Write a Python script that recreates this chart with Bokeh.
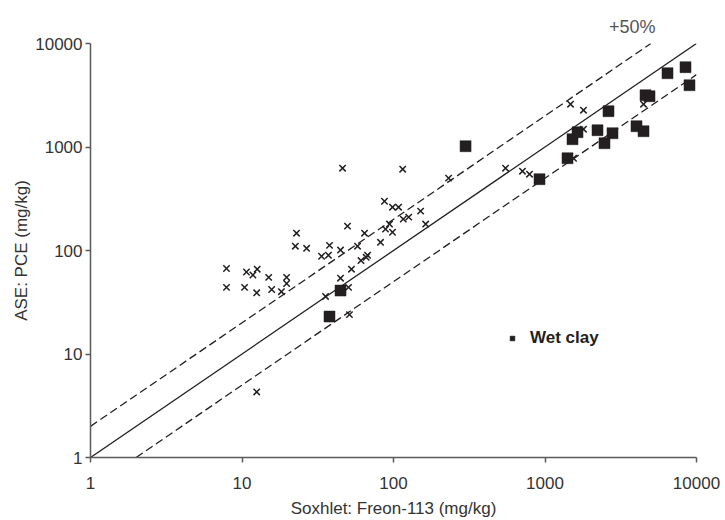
from bokeh.plotting import figure
from bokeh.models import FixedTicker, NumeralTickFormatter, Legend, LegendItem
from bokeh.embed import file_html
from bokeh.resources import INLINE

# ---- data ----
wet_clay_x = [37.8, 44.7, 299, 920, 1408, 1519, 1639, 2221, 2470, 2625, 2790,
              4018, 4470, 4608, 4897, 6437, 8461, 8990]
wet_clay_y = [23, 41, 1018, 489, 779, 1189, 1390, 1453, 1088, 2218, 1359,
              1589, 1421, 3164, 3097, 5164, 5902, 3955]

other_x = [7.9, 7.9, 10.4, 10.7, 11.8, 12.6, 12.5, 15.0, 15.7, 18.2, 19.7, 19.7,
           22.9, 22.5, 26.7, 33.5, 37.2, 37.8, 44.7, 46.1, 49.7, 57.9, 52.8, 44.7,
           50.5, 35.6, 51.2, 12.5, 64.4, 67.4, 61.0, 66.0, 82.1, 88.6, 94.1, 98.5,
           87.2, 98.5, 108, 116, 126, 151, 163, 115, 231, 549, 710, 790,
           1474, 1795, 1795, 1542, 4470]
other_y = [67, 44, 44, 62, 58, 66, 39, 55, 42, 40, 55, 48,
           147, 110, 105, 88, 90, 112, 101, 624, 172, 110, 66, 54,
           44, 36, 24, 4.3, 147, 90, 80, 86, 120, 161, 180, 150,
           299, 262, 262, 201, 210, 240, 180, 610, 500, 624, 584, 546,
           2591, 2268, 1486, 779, 2591]

# reference lines: 1:1 and the +/-50 % envelope
ref_x = [1, 10000]
ref_y = [1, 10000]
upper_x = [1, 5000]
upper_y = [2, 10000]
lower_x = [2, 10000]
lower_y = [1, 5000]

tick_values = [1, 10, 100, 1000, 10000]

x_title = "Soxhlet: Freon-113 (mg/kg)"
y_title = "ASE: PCE (mg/kg)"
legend_label = "Wet clay"
envelope_label = "+50%"

FONT = "Liberation Sans"
INK = "#231f20"
AXIS = "#5a5a5a"
TXT = "#333333"

p = figure(frame_width=606, frame_height=414, x_axis_type="log", y_axis_type="log",
           x_range=(1, 10000), y_range=(1, 10000),
           output_backend="svg", toolbar_location=None,
           min_border_left=90, min_border_right=28,
           min_border_top=43, min_border_bottom=62)

p.outline_line_color = None
p.xgrid.visible = False
p.ygrid.visible = False
p.background_fill_color = "white"
p.border_fill_color = "white"

# "+50%" marker of the envelope, placed above the frame at the upper right
p.title.text = envelope_label
p.title.align = "right"
p.title.offset = 41
p.title.standoff = 14
p.title.text_font = FONT
p.title.text_font_size = "18px"
p.title.text_font_style = "normal"
p.title.text_color = "#555555"

for ax in (p.xaxis[0], p.yaxis[0]):
    ax.ticker = FixedTicker(ticks=tick_values, minor_ticks=[])
    ax.formatter = NumeralTickFormatter(format="0")
    ax.axis_line_color = AXIS
    ax.axis_line_width = 1.5
    ax.major_tick_line_color = AXIS
    ax.major_tick_line_width = 1.5
    ax.major_tick_in = 0
    ax.major_tick_out = 5
    ax.minor_tick_in = 0
    ax.minor_tick_out = 0
    ax.major_label_text_font = FONT
    ax.major_label_text_font_size = "17px"
    ax.major_label_text_color = TXT
    ax.axis_label_text_font = FONT
    ax.axis_label_text_font_size = "17px"
    ax.axis_label_text_font_style = "normal"
    ax.axis_label_text_color = TXT

p.xaxis.major_label_standoff = 14
p.xaxis.axis_label_standoff = 7
p.yaxis.major_label_standoff = 3
p.yaxis.axis_label_standoff = 1

p.xaxis.axis_label = x_title
p.yaxis.axis_label = y_title

p.line(ref_x, ref_y, line_color=INK, line_width=1.3)
p.line(upper_x, upper_y, line_color=INK, line_width=1.3, line_dash="8 4")
p.line(lower_x, lower_y, line_color=INK, line_width=1.3, line_dash="8 4")

p.scatter(other_x, other_y, marker="x", size=9, line_color=INK, line_width=1.5)
sq = p.scatter(wet_clay_x, wet_clay_y, marker="square", size=11,
               fill_color=INK, line_color=INK, line_width=0.5)

legend = Legend(items=[LegendItem(label=legend_label, renderers=[sq])],
                location=(416, 109), border_line_color=None,
                background_fill_alpha=0, padding=0, margin=0, spacing=0,
                glyph_width=12, glyph_height=20, label_standoff=12,
                label_text_font=FONT, label_text_font_style="bold",
                label_text_font_size="17px", label_text_color=INK)
p.add_layout(legend)

open("out.html", "w").write(file_html(p, INLINE))
